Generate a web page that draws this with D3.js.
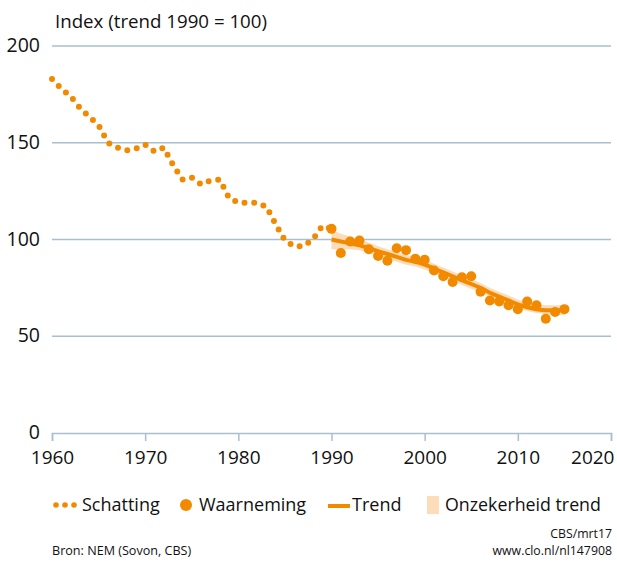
<!DOCTYPE html>
<html><head><meta charset="utf-8">
<script src="https://cdn.jsdelivr.net/npm/d3@7"></script>
<style>body{margin:0;background:#fff}svg{display:block;font-family:"Open Sans",sans-serif}</style>
</head><body>
<script>
const estYears = d3.range(1960, 1991);
const estValues = [183,178,174,168,163.5,159,150,147.5,146,147,149,145.5,147.5,138.5,131,132,128.5,130.5,131,121.5,119,119,119,117,108,99.5,96.5,96.5,100,107,105.5];
const obsYears = d3.range(1990, 2016);
const obsValues = [105.5,93,99,99.5,95,91.5,89,95.5,94.5,90,89.5,84,81,78,80.5,81,73,68.5,68,66,64,68,66,59,62.5,64];
const trendYears = d3.range(1990, 2016);
const trendValues = [100,99,98,97,95.5,94,92.5,91,89.5,88.5,87,85,83,81,79,77,75,72.5,70.5,68.5,66.5,65,64,63.5,63.5,63.5];
const bandLower = [95,95,95,94.5,93,91.5,90,88.5,87,86,84.5,82.5,80.5,78.5,76.5,74.5,72.5,70.5,68.5,66.5,64.5,63,62,61.5,61,61];
const bandUpper = [105,103,101.5,100,98.5,96.5,95,93.5,92,91,89.5,87.5,85.5,83.5,81.5,79.5,77.5,75,73,71,69,67.5,66.5,66,66,66];
const yTicks = [0,50,100,150,200];
const xTicks = [1960,1970,1980,1990,2000,2010,2020];
const yTitle = "Index (trend 1990 = 100)";
const legendLabels = ["Schatting","Waarneming","Trend","Onzekerheid trend"];

const W=617,H=565, orange="#f28a00", band="#fcdcb9", grid="#a8bfd0";
const svg=d3.select("body").append("svg").attr("width",W).attr("height",H);
const x=d3.scaleLinear().domain([1960,2020]).range([52,611]);
const y=d3.scaleLinear().domain([0,200]).range([433,46]);

// grid
svg.append("g").selectAll("line").data(yTicks.filter(d=>d>0)).join("line")
 .attr("x1",x(1960)).attr("x2",x(2020)).attr("y1",d=>y(d)).attr("y2",d=>y(d))
 .attr("stroke",grid).attr("stroke-width",1.5);
svg.append("g").selectAll("text").data(yTicks).join("text")
 .attr("x",40).attr("y",d=>y(d)+6).attr("text-anchor","end").attr("font-size",19.5).attr("fill","#111").text(d=>d);
svg.append("text").attr("x",55).attr("y",28).attr("font-size",18.7).attr("fill","#111").text(yTitle);

// x axis
const xa=d3.axisBottom(x).tickValues(xTicks).tickFormat(d3.format("d")).tickSize(8).tickPadding(10);
const gx=svg.append("g").attr("transform",`translate(0,${y(0)})`).call(xa);
gx.select(".domain").attr("stroke",grid).attr("stroke-width",1.5);
gx.selectAll(".tick line").attr("stroke",grid).attr("stroke-width",1.5);
gx.selectAll("text").attr("font-size",19).attr("fill","#111").attr("font-family","Open Sans, sans-serif");
gx.selectAll(".tick").filter(d=>d===2020).select("text").attr("text-anchor","end").attr("x",3);

// band
svg.append("path").datum(trendYears.map((d,i)=>[d,bandLower[i],bandUpper[i]]))
 .attr("fill",band).attr("d",d3.area().x(d=>x(d[0])).y0(d=>y(d[1])).y1(d=>y(d[2])));
// estimate dotted
svg.append("path").datum(estYears.map((d,i)=>[d,estValues[i]]))
 .attr("fill","none").attr("stroke",orange).attr("stroke-width",6).attr("stroke-linecap","round")
 .attr("stroke-dasharray","0,9.7").attr("d",d3.line().x(d=>x(d[0])).y(d=>y(d[1])));
// trend
svg.append("path").datum(trendYears.map((d,i)=>[d,trendValues[i]]))
 .attr("fill","none").attr("stroke",orange).attr("stroke-width",4)
 .attr("d",d3.line().curve(d3.curveMonotoneX).x(d=>x(d[0])).y(d=>y(d[1])));
// observations
svg.append("g").selectAll("circle").data(obsYears.map((d,i)=>[d,obsValues[i]])).join("circle")
 .attr("cx",d=>x(d[0])).attr("cy",d=>y(d[1])).attr("r",5).attr("fill",orange);

// legend
const ly=505;
const lg=svg.append("g");
[56,65,74].forEach(cx=>lg.append("circle").attr("cx",cx).attr("cy",ly).attr("r",2.8).attr("fill",orange));
lg.append("text").attr("x",82).attr("y",ly+6).attr("font-size",18).text(legendLabels[0]);
lg.append("circle").attr("cx",186).attr("cy",ly).attr("r",6).attr("fill",orange);
lg.append("text").attr("x",199).attr("y",ly+6).attr("font-size",18).text(legendLabels[1]);
lg.append("line").attr("x1",328).attr("x2",350).attr("y1",ly+1).attr("y2",ly+1).attr("stroke",orange).attr("stroke-width",4);
lg.append("text").attr("x",352).attr("y",ly+6).attr("font-size",18).text(legendLabels[2]);
lg.append("rect").attr("x",427).attr("y",ly-9).attr("width",12).attr("height",18).attr("fill",band);
lg.append("text").attr("x",445).attr("y",ly+6).attr("font-size",17.8).text(legendLabels[3]);
lg.selectAll("text").attr("fill","#111");

// sources
svg.append("text").attr("x",612).attr("y",538).attr("text-anchor","end").attr("font-size",12.3).attr("fill","#111").text("CBS/mrt17");
svg.append("text").attr("x",612).attr("y",555).attr("text-anchor","end").attr("font-size",12.3).attr("fill","#111").text("www.clo.nl/nl147908");
svg.append("text").attr("x",52).attr("y",555).attr("font-size",12.6).attr("fill","#111").text("Bron: NEM (Sovon, CBS)");
</script>
</body></html>
